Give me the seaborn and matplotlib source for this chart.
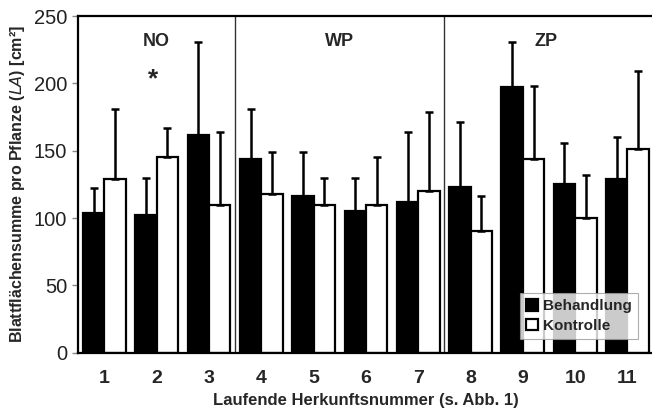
import matplotlib
matplotlib.use("Agg")
import matplotlib.pyplot as plt
import seaborn as sns
import pandas as pd

categories = ["1", "2", "3", "4", "5", "6", "7", "8", "9", "10", "11"]
behandlung = [104, 102, 162, 144, 116, 105, 112, 123, 197, 125, 129]
behandlung_err = [18, 28, 69, 37, 33, 25, 52, 48, 34, 31, 31]
kontrolle = [129, 145, 110, 118, 110, 110, 120, 90, 144, 100, 151]
kontrolle_err = [52, 22, 54, 31, 20, 35, 59, 26, 54, 32, 58]
groups = ["NO", "WP", "ZP"]
series = ["Behandlung", "Kontrolle"]

sns.set_style("white")
plt.rcParams["font.family"] = ["Liberation Sans", "DejaVu Sans"]

df = pd.DataFrame({
    "cat": categories * 2,
    "val": behandlung + kontrolle,
    "grp": [series[0]] * len(categories) + [series[1]] * len(categories),
})

fig = plt.figure(figsize=(6.52, 4.15), dpi=100)
ax = fig.add_axes([78.3 / 652, 1 - 352.7 / 415, 575.3 / 652, 336.7 / 415])

sns.barplot(data=df, x="cat", y="val", hue="grp", order=categories, hue_order=series,
            palette={series[0]: "black", series[1]: "white"}, edgecolor="black",
            linewidth=1.6, width=0.82, gap=0, errorbar=None, ax=ax, legend=True)

for cont, errs in zip(ax.containers, [behandlung_err, kontrolle_err]):
    xs = [p.get_x() + p.get_width() / 2 for p in cont.patches]
    ys = [p.get_height() for p in cont.patches]
    ax.errorbar(xs, ys, yerr=[[0] * len(errs), errs], fmt="none", ecolor="black",
                elinewidth=1.8, capsize=3, capthick=1.8, zorder=1)

ax.set_xlim(-0.5, 10.5)
ax.set_ylim(0, 250)
ax.set_yticks([0, 50, 100, 150, 200, 250])

for xd in [2.5, 6.5]:
    ax.axvline(xd, color="#333333", lw=1.0, zorder=0)

ax.text(1, 231, groups[0], ha="center", va="center", fontsize=13, fontweight="bold")
ax.text(4.5, 231, groups[1], ha="center", va="center", fontsize=13, fontweight="bold")
ax.text(8.45, 231, groups[2], ha="center", va="center", fontsize=13, fontweight="bold")
ax.text(0.93, 203, "*", ha="center", va="center", fontsize=19, fontweight="bold")

for s in ["left", "top", "bottom", "right"]:
    ax.spines[s].set_color("black")
    ax.spines[s].set_linewidth(1.6)

ax.tick_params(axis="y", which="both", left=True, length=4, width=1, color="#888888",
               labelsize=14.5, labelcolor="#222222", pad=4)
ax.tick_params(axis="x", bottom=False, labelsize=14, pad=9)
for lab in ax.get_xticklabels():
    lab.set_fontweight("bold")

ax.set_xlabel("Laufende Herkunftsnummer (s. Abb. 1)", fontsize=12, fontweight="bold", labelpad=4)
ax.set_ylabel("Blattflächensumme pro Pflanze ($\\mathbf{\\it{LA}}$) [cm²]", fontsize=11.5,
              fontweight="bold", labelpad=5)

handles, labels = ax.get_legend_handles_labels()
leg = ax.legend(handles, labels, loc="upper left", bbox_to_anchor=(0.768, 0.177),
                borderaxespad=0, frameon=True, fancybox=False, handlelength=0.8,
                handleheight=0.8, handletextpad=0.3, borderpad=0.4, labelspacing=0.35,
                prop={"weight": "bold", "size": 11})
leg.get_frame().set_edgecolor("#999999")
leg.get_frame().set_linewidth(0.8)

fig.savefig("out.png", dpi=100)
